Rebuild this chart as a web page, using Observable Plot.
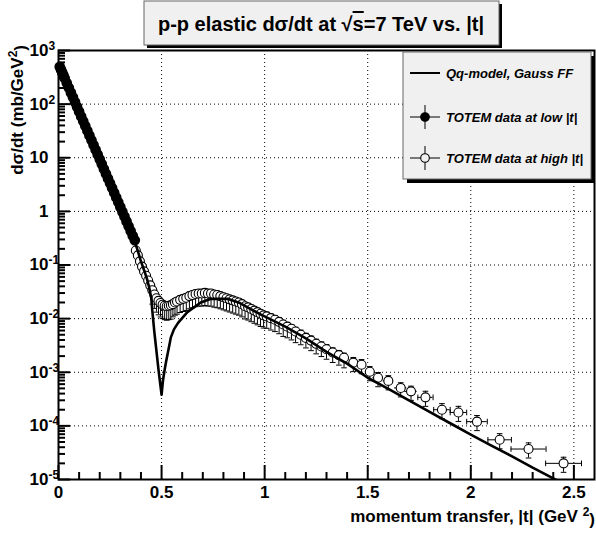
<!DOCTYPE html>
<html><head><meta charset="utf-8">
<script src="https://cdn.jsdelivr.net/npm/d3@7"></script>
<script src="https://cdn.jsdelivr.net/npm/@observablehq/plot@0.6"></script>
<style>
html,body{margin:0;padding:0;background:#fff;}
#chart{width:596px;height:536px;}
</style></head><body><div id="chart"></div>
<script>
// ---- TOTEM data at low |t| (filled circles)
const lowT = [0.006,0.012,0.018,0.024,0.03,0.04,0.05,0.06,0.07,0.08,0.09,0.10,0.11,0.12,0.13,0.14,0.15,0.16,0.17,0.18,0.19,0.20,0.21,0.22,0.23,0.24,0.25,0.26,0.27,0.28,0.29,0.30,0.31,0.32,0.33,0.34,0.35,0.36,0.37];
const lowY = [498,440,389,344,304,248,202,164,134,109,88.9,72.4,59.0,48.1,39.2,31.9,26.0,21.2,17.3,14.1,11.5,9.33,7.60,6.19,5.05,4.11,3.35,2.73,2.22,1.81,1.48,1.20,0.98,0.80,0.65,0.53,0.43,0.35,0.29];

// ---- TOTEM data at high |t| (open circles)
const highT = [0.375,0.385,0.395,0.405,0.415,0.425,0.435,0.445,0.455,0.465,0.475,0.485,0.495,0.505,0.515,0.525,0.535,0.545,0.555,0.565,0.575,0.59,0.605,0.62,0.635,0.65,0.665,0.68,0.695,0.71,0.725,0.74,0.755,0.77,0.785,0.80,0.815,0.83,0.845,0.86,0.875,0.89,0.905,0.92,0.935,0.95,0.965,0.98,0.995,1.01,1.03,1.05,1.07,1.09,1.11,1.13,1.15,1.175,1.20,1.225,1.25,1.275,1.30,1.33,1.36,1.385,1.43,1.47,1.51,1.55,1.60,1.66,1.71,1.78,1.86,1.94,2.03,2.14,2.28,2.45];
const highY = [0.186,0.151,0.117,0.0933,0.0759,0.0631,0.0513,0.0417,0.0339,0.0282,0.0240,0.0214,0.0195,0.0182,0.0174,0.0170,0.0174,0.0178,0.0186,0.0200,0.0209,0.0224,0.0234,0.0245,0.0263,0.0275,0.0288,0.0295,0.0295,0.0302,0.0295,0.0295,0.0282,0.0275,0.0263,0.0251,0.0240,0.0229,0.0219,0.0209,0.0200,0.0186,0.0170,0.0162,0.0151,0.0141,0.0132,0.0123,0.0115,0.0110,0.0102,0.00955,0.00871,0.00776,0.00708,0.00646,0.00575,0.00501,0.00437,0.00389,0.00339,0.00302,0.00269,0.00234,0.00209,0.00186,0.00151,0.00138,0.00102,0.00079,0.00069,0.00051,0.00044,0.00034,0.00020,0.000178,0.000120,0.000055,0.000037,0.000020];
const highXerr = [0.005,0.005,0.005,0.005,0.005,0.005,0.005,0.005,0.005,0.005,0.005,0.005,0.005,0.005,0.005,0.005,0.005,0.005,0.005,0.005,0.005,0.007,0.007,0.007,0.007,0.007,0.007,0.007,0.007,0.007,0.007,0.007,0.007,0.007,0.007,0.007,0.007,0.007,0.007,0.007,0.007,0.007,0.007,0.007,0.007,0.007,0.007,0.007,0.007,0.01,0.01,0.01,0.01,0.01,0.01,0.01,0.01,0.012,0.012,0.012,0.012,0.012,0.015,0.015,0.015,0.015,0.02,0.02,0.02,0.025,0.025,0.03,0.03,0.037,0.04,0.04,0.05,0.057,0.085,0.087];
const highErrDn = [12,12,12,12,12,12,12,12,45,45,45,45,45,45,45,45,45,45,42,42,42,42,42,42,42,42,42,42,42,42,42,42,42,42,42,42,42,42,42,42,42,42,42,42,42,42,42,42,42,40,40,40,40,40,38,38,38,35,35,35,35,35,35,35,35,35,32,32,32,32,32,32,32,32,32,32,32,32,32,32];
const highErrUp = [12,12,12,12,12,12,12,12,18,18,18,18,18,18,18,18,18,18,18,18,18,18,18,18,18,18,18,18,18,18,18,18,18,18,18,18,18,18,18,18,18,18,18,18,18,18,18,18,18,20,20,20,20,20,20,20,20,22,22,22,22,22,22,22,22,22,25,25,25,25,25,25,25,30,30,30,30,30,30,30];

// ---- Qq-model, Gauss FF (solid line)
const modelT = [0,0.05,0.10,0.15,0.20,0.25,0.30,0.35,0.38,0.40,0.42,0.43,0.44,0.45,0.455,0.465,0.475,0.485,0.493,0.50,0.507,0.515,0.522,0.535,0.545,0.56,0.58,0.625,0.69,0.74,0.82,0.88,0.98,1.1,1.2,1.3,1.4,1.5,1.6,1.7,1.8,1.9,2.0,2.1,2.2,2.3,2.4,2.45];
const modelY = [562,200,72.4,26.3,9.33,3.39,1.20,0.417,0.209,0.117,0.0708,0.0537,0.0380,0.0240,0.0141,0.00562,0.00251,0.00112,0.00063,0.00038,0.00071,0.00112,0.00158,0.00282,0.00447,0.00631,0.00832,0.0132,0.0200,0.0234,0.0234,0.0195,0.0120,0.00708,0.00427,0.00240,0.00145,0.00079,0.00049,0.00030,0.000182,0.000112,0.000069,0.000043,0.000027,0.0000166,0.0000105,0.0000083];

// ---- axes
const xMajor = [0,0.5,1,1.5,2,2.5];
const xTickLabels = ["0","0.5","1","1.5","2","2.5"];
const xMinor = [0.1,0.2,0.3,0.4,0.6,0.7,0.8,0.9,1.1,1.2,1.3,1.4,1.6,1.7,1.8,1.9,2.1,2.2,2.3,2.4];
const yDecades = [1e-5,1e-4,1e-3,1e-2,1e-1,1,10,100,1000];
const yTickLabels = ["10^-5","10^-4","10^-3","10^-2","10^-1","1","10","10^2","10^3"];
const yMinorMult = [2,3,4,5,6,7,8,9];
const yMinor = yDecades.slice(0,-1).flatMap(d => yMinorMult.map(m => d*m));

const titleText = ["p-p elastic d\u03c3/dt at \u221a", "s", "=7 TeV vs. |t|"];
const xTitle = ["momentum transfer, |t| (GeV ", "2", ")"];
const yTitle = ["d\u03c3/dt (mb/GeV", "2", ")"];
const legendItems = [
  {label: "Qq-model, Gauss FF", kind: "line"},
  {label: "TOTEM data at low |t|", kind: "filled"},
  {label: "TOTEM data at high |t|", kind: "open"}
];

const FONT = "'Liberation Sans', Arial, Helvetica, sans-serif";
const lowIdx = d3.range(lowT.length);
const hiIdx = d3.range(highT.length);
const mIdx = d3.range(modelT.length);

const hCap = {draw(ctx, size){ const w = Math.sqrt(size)/2; ctx.moveTo(-w,0); ctx.lineTo(w,0); }};
const vCap = {draw(ctx, size){ const w = Math.sqrt(size)/2; ctx.moveTo(0,-w); ctx.lineTo(0,w); }};
const lo = i => highY[i]*(1-highErrDn[i]/100);
const hi = i => highY[i]*(1+highErrUp[i]/100);

const grid = {stroke: "black", strokeOpacity: 1, strokeWidth: 1, strokeDasharray: "1,3"};
const tk = {fill: "none", label: null, stroke: "#000", strokeWidth: 2};

const plot = Plot.plot({
  width: 596, height: 536,
  marginLeft: 58, marginRight: 2, marginTop: 50, marginBottom: 57,
  x: {domain: [0, 2.6]},
  y: {type: "log", domain: [1e-5, 1e3]},
  style: {fontFamily: FONT, fontSize: "17px", fontWeight: "bold", background: "white", color: "black"},
  marks: [
    Plot.gridX(xMajor.filter(v => v > 0), grid),
    Plot.gridY(yDecades.slice(1, -1), grid),
    // error bars of high |t| data
    Plot.ruleX(hiIdx, {x: i => highT[i], y1: lo, y2: hi, stroke: "black", strokeWidth: 1}),
    Plot.ruleY(hiIdx, {y: i => highY[i], x1: i => highT[i]-highXerr[i], x2: i => highT[i]+highXerr[i], stroke: "black", strokeWidth: 1}),
    Plot.dot(hiIdx, {x: i => highT[i], y: lo, symbol: hCap, r: 3.2, stroke: "black", strokeWidth: 1}),
    Plot.dot(hiIdx, {x: i => highT[i], y: hi, symbol: hCap, r: 3.2, stroke: "black", strokeWidth: 1}),
    Plot.dot(hiIdx.filter(i => highXerr[i] > 0.03), {x: i => highT[i]-highXerr[i], y: i => highY[i], symbol: vCap, r: 3.2, stroke: "black", strokeWidth: 1}),
    Plot.dot(hiIdx.filter(i => highXerr[i] > 0.03), {x: i => highT[i]+highXerr[i], y: i => highY[i], symbol: vCap, r: 3.2, stroke: "black", strokeWidth: 1}),
    Plot.dot(hiIdx, {x: i => highT[i], y: i => highY[i], r: 4.5, fill: "white", stroke: "black", strokeWidth: 1.1}),
    // model
    Plot.line(mIdx, {x: i => modelT[i], y: i => modelY[i], stroke: "black", strokeWidth: 2.6, clip: true}),
    // low |t| data
    Plot.dot(lowIdx, {x: i => lowT[i], y: i => lowY[i], r: 4.6, fill: "black", stroke: "black"}),
    // inward ticks
    Plot.axisX(xMajor, {tickSize: -14, ...tk}),
    Plot.axisX(xMinor, {tickSize: -7, ...tk}),
    Plot.axisY(yDecades, {tickSize: -12, ...tk}),
    Plot.axisY(yMinor, {tickSize: -7, ...tk}),
    // tick labels
    Plot.axisX(xMajor, {tickSize: 0, tickPadding: 6, tickFormat: d => xTickLabels[xMajor.indexOf(d)], label: null, fontSize: 17}),
    Plot.axisY(yDecades, {tickSize: 0, tickPadding: 10, tickFormat: d => yTickLabels[yDecades.indexOf(d)], label: null, fontSize: 17}),
    Plot.frame({stroke: "black", strokeWidth: 2})
  ]
});

document.getElementById("chart").appendChild(plot);
const svg = d3.select(plot);

// superscripts in y tick labels
svg.selectAll('g[aria-label="y-axis tick label"] text').each(function(){
  const s = this.textContent;
  if (s.includes("^")) {
    const [b, e] = s.split("^");
    const t = d3.select(this);
    t.text(null);
    t.append("tspan").text(b);
    const sup = t.append("tspan").attr("dy", "-0.5em").attr("font-size", "12px").text(e);
    const w = sup.node().getComputedTextLength();
    t.attr("dx", w);
  }
});

// title box
const tb = svg.append("g").attr("text-anchor", "middle");
tb.append("rect").attr("x", 147).attr("y", 4).attr("width", 355).attr("height", 44).attr("fill", "black");
tb.append("rect").attr("x", 144).attr("y", 1).attr("width", 355).attr("height", 44).attr("fill", "#f0f0f0").attr("stroke", "#666").attr("stroke-width", 1);
const tt = tb.append("text").attr("x", 321).attr("y", 31).attr("text-anchor", "middle")
  .attr("font-family", FONT).attr("font-weight", "bold").attr("font-size", 20).attr("fill", "black");
tt.append("tspan").text(titleText[0]);
tt.append("tspan").attr("text-decoration", "overline").text(titleText[1]);
tt.append("tspan").text(titleText[2]);

// axis titles
const xt = svg.append("text").attr("x", 595).attr("y", 522).attr("text-anchor", "end")
  .attr("font-family", FONT).attr("font-weight", "bold").attr("font-size", 17);
xt.append("tspan").text(xTitle[0]);
xt.append("tspan").attr("dy", "-0.5em").attr("font-size", 12).text(xTitle[1]);
xt.append("tspan").attr("dy", "0.5em").text(xTitle[2]);

const yt = svg.append("text").attr("transform", "translate(23,45) rotate(-90)").attr("text-anchor", "end")
  .attr("font-family", FONT).attr("font-weight", "bold").attr("font-size", 17);
yt.append("tspan").text(yTitle[0]);
yt.append("tspan").attr("dy", "-0.5em").attr("font-size", 12).text(yTitle[1]);
yt.append("tspan").attr("dy", "0.5em").text(yTitle[2]);

// legend
const lg = svg.append("g").attr("text-anchor", "start");
lg.append("rect").attr("x", 407).attr("y", 56).attr("width", 188).attr("height", 127).attr("fill", "black");
lg.append("rect").attr("x", 403).attr("y", 52).attr("width", 188).attr("height", 127).attr("fill", "#f0f0f0").attr("stroke", "#666").attr("stroke-width", 1);
const rowsY = [73, 117, 158];
legendItems.forEach((it, k) => {
  const y = rowsY[k];
  const g = lg.append("g");
  if (it.kind === "line") {
    g.append("line").attr("x1", 410).attr("x2", 440).attr("y1", y).attr("y2", y).attr("stroke", "black").attr("stroke-width", 2);
  } else {
    g.append("line").attr("x1", 410).attr("x2", 440).attr("y1", y).attr("y2", y).attr("stroke", "black").attr("stroke-width", 1);
    g.append("line").attr("x1", 425).attr("x2", 425).attr("y1", y-12).attr("y2", y+12).attr("stroke", "black").attr("stroke-width", 1);
    g.append("circle").attr("cx", 425).attr("cy", y).attr("r", 4.3)
      .attr("fill", it.kind === "filled" ? "black" : "#f0f0f0").attr("stroke", "black").attr("stroke-width", 1.1);
  }
  g.append("text").attr("x", 446).attr("y", y+5).attr("text-anchor", "start").text(it.label)
    .attr("font-family", FONT).attr("font-weight", "bold").attr("font-style", "italic").attr("font-size", 13);
});
</script>
</body></html>
